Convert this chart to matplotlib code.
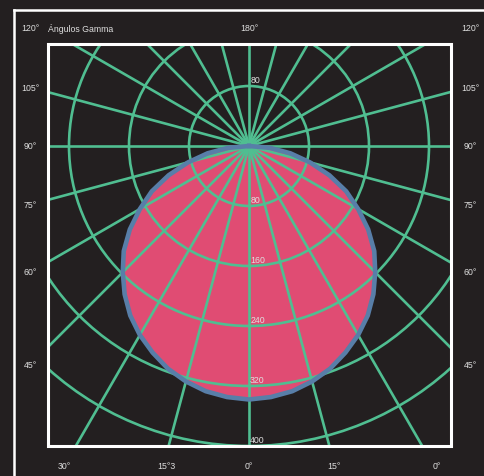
import numpy as np
import matplotlib
matplotlib.use("Agg")
import matplotlib.pyplot as plt
from matplotlib.patches import Circle, Rectangle, Polygon

plt.rcParams['font.family'] = ['Liberation Sans', 'DejaVu Sans']

# photometric data: gamma angle (deg from nadir) and intensity (cd)
gamma = [0, 5, 10, 15, 20, 25, 30, 35, 40, 45, 50, 55, 60, 65, 70, 75, 80, 85, 90]
intensity = [338, 336, 332, 325, 316, 304, 291, 276, 258, 238, 218, 194, 168,
             143, 114, 84, 56, 28, 0]

rings = [80, 160, 240, 320, 400]
ring_labels = ["80", "160", "240", "320", "400"]
spokes = np.arange(0, 360, 15)

side_labels = ["105°", "90°", "75°", "60°", "45°"]
side_y = [89, 147, 206, 273, 366]
bottom_labels = ["30°", "15°3", "0°", "15°", "0°"]
bottom_x = [64, 166, 249, 334, 437]

bg = "#231f20"
green = "#50be91"
red = "#e04c73"
blue = "#587ea8"
txt = "#dedede"

W, H = 484, 477
cx, cy, k = 249, 147, 0.75   # centre in pixels, pixels per cd


def px(x, y):
    # pixel position -> data coords (cd)
    return (x - cx) / k, (cy - y) / k


fig = plt.figure(figsize=(W / 100, H / 100), dpi=100)
fig.patch.set_facecolor(bg)
ax = fig.add_axes([0, 0, 1, 1])
ax.set_facecolor(bg)
ax.set_xlim(px(0, 0)[0], px(W, 0)[0])
ax.set_ylim(px(0, H)[1], px(0, 0)[1])
ax.axis('off')

# inner frame used for clipping
x0, y0 = px(48, 447)
x1, y1 = px(451, 45)
clip = Rectangle((x0, y0), x1 - x0, y1 - y0, transform=ax.transData)

# distribution curve (mirrored on both sides)
g = np.radians(np.array(gamma))
I = np.array(intensity)
g_full = np.concatenate([-g[::-1], g[1:]])
I_full = np.concatenate([I[::-1], I[1:]])
xs = I_full * np.sin(g_full)
ys = -I_full * np.cos(g_full)
ax.fill(xs, ys, color=red, zorder=1, lw=0)

# grid: rings and spokes
for r in rings:
    c = Circle((0, 0), r, fill=False, ec=green, lw=1.9, zorder=2)
    ax.add_patch(c)
    c.set_clip_path(clip)
for a in spokes:
    t = np.radians(a)
    ln, = ax.plot([0, 700 * np.sin(t)], [0, -700 * np.cos(t)], color=green,
                  lw=1.9, zorder=2, solid_capstyle='butt')
    ln.set_clip_path(clip)

ax.plot(xs, ys, color=blue, lw=3.3, zorder=3, solid_joinstyle='round')

# frames
ax.add_patch(Rectangle((x0, y0), x1 - x0, y1 - y0, fill=False, ec="white",
                       lw=2.2, zorder=4))
ax.plot([px(14, 0)[0], px(14, 0)[0]], [px(0, 10.5)[1], px(0, H)[1]],
        color="white", lw=1.8, zorder=4)
ax.plot([px(14, 0)[0], px(W, 0)[0]], [px(0, 10.5)[1], px(0, 10.5)[1]],
        color="white", lw=1.8, zorder=4)

fs = 6.3
# ring labels
for r, lab in zip(rings, ring_labels):
    ax.text(1.5, -r + 2, lab, color=txt, fontsize=fs, ha='left', va='bottom',
            zorder=5)
ax.text(1.5, 80 + 2, "80", color=txt, fontsize=fs, ha='left', va='bottom',
        zorder=5)

# top row
ax.text(*px(30, 29), "120°", color=txt, fontsize=fs, ha='center', va='center')
ax.text(*px(48, 29), "Ángulos Gamma", color=txt, fontsize=fs, ha='left',
        va='center')
ax.text(*px(249.5, 28.5), "180°", color=txt, fontsize=fs, ha='center',
        va='center')
ax.text(*px(470, 28.5), "120°", color=txt, fontsize=fs, ha='center',
        va='center')

for lab, yy in zip(side_labels, side_y):
    ax.text(*px(30, yy), lab, color=txt, fontsize=fs, ha='center', va='center')
    ax.text(*px(470, yy), lab, color=txt, fontsize=fs, ha='center', va='center')

for lab, xx in zip(bottom_labels, bottom_x):
    ax.text(*px(xx, 467), lab, color=txt, fontsize=fs, ha='center', va='center')

fig.savefig("out.png", dpi=100, facecolor=bg)
